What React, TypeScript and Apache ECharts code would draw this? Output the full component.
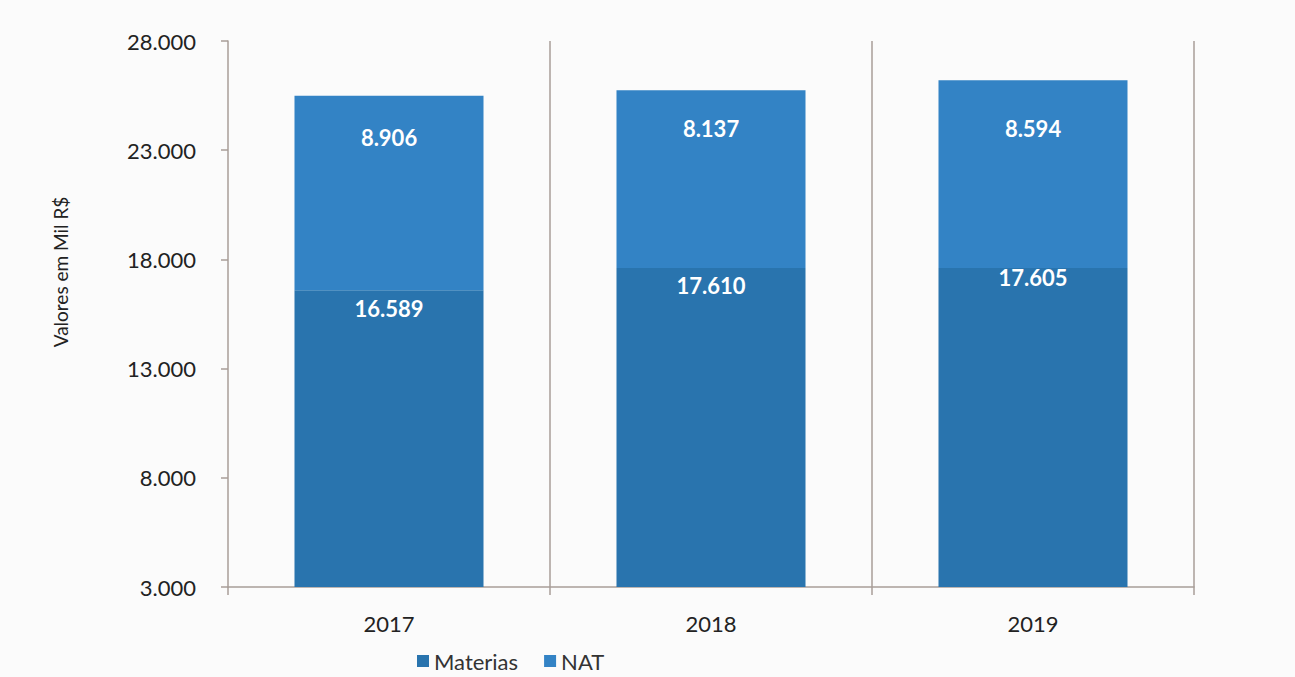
import React, { useEffect, useRef } from "react";
import * as echarts from "echarts";

const categories = ["2017", "2018", "2019"];
const materias = [16589, 17610, 17605];
const nat = [8906, 8137, 8594];
const yMin = 3000;
const yMax = 28000;
const yInterval = 5000;
const yTitle = "Valores em Mil R$";

// label distances from the top of each segment (px), as placed in the original
const materiasLabelGap = [7, 7, -2];
const natLabelGap = [31, 27, 37];

const fmt = (v: number) => {
  const s = Math.round(v).toString();
  return s.replace(/\B(?=(\d{3})+(?!\d))/g, ".");
};

export default function App() {
  const ref = useRef<HTMLDivElement>(null);
  useEffect(() => {
    if (!ref.current) return;
    const chart = echarts.init(ref.current, null, { renderer: "svg" });
    const font = "Lato, 'Open Sans', sans-serif";
    const axisColor = "#a89e99";
    const labelBase = {
      show: true,
      position: "insideTop",
      color: "#fff",
      fontWeight: "bold",
      fontSize: 22,
      fontFamily: font,
      formatter: (p: any) => fmt(p.value),
    };
    chart.setOption({
      animation: false,
      backgroundColor: "#fbfbfb",
      textStyle: { fontFamily: font },
      grid: { left: 228, top: 41, right: 101, bottom: 90 },
      legend: {
        bottom: 2,
        left: 412,
        padding: [2, 5, 2, 5],
        icon: "rect",
        itemWidth: 12,
        itemHeight: 12,
        itemGap: 26,
        textStyle: { fontSize: 22, lineHeight: 24, color: "#333", fontFamily: font },
        data: ["Materias", "NAT"],
      },
      graphic: [
        {
          type: "text",
          x: 60,
          y: 272,
          rotation: Math.PI / 2,
          style: {
            text: yTitle,
            fontSize: 19,
            fontFamily: font,
            fill: "#222",
            align: "center",
            verticalAlign: "middle",
          },
        },
      ],
      xAxis: {
        type: "category",
        data: categories,
        boundaryGap: true,
        axisLine: { show: true, lineStyle: { color: axisColor, width: 1.5 } },
        axisTick: { show: true, length: 8, lineStyle: { color: axisColor, width: 1.5 } },
        splitLine: { show: true, showMinLine: false, showMaxLine: true, lineStyle: { color: axisColor, width: 1.5 } },
        axisLabel: { fontSize: 22, color: "#222", margin: 25, fontFamily: font },
      },
      yAxis: {
        type: "value",
        min: yMin,
        max: yMax,
        interval: yInterval,
        axisLine: { show: true, lineStyle: { color: axisColor, width: 1.5 } },
        axisTick: { show: true, length: 7, lineStyle: { color: axisColor, width: 1.5 } },
        splitLine: { show: false },
        axisLabel: {
          fontSize: 22,
          color: "#222",
          margin: 32,
          fontFamily: font,
          formatter: (v: number) => fmt(v),
        },
      },
      series: [
        {
          name: "Materias",
          type: "bar",
          stack: "total",
          barWidth: "58.7%",
          itemStyle: { color: "#2974ae" },
          label: { ...labelBase, distance: 7 },
          data: materias.map((v, i) => ({ value: v, label: { distance: materiasLabelGap[i] } })),
        },
        {
          name: "NAT",
          type: "bar",
          stack: "total",
          barWidth: "58.7%",
          itemStyle: { color: "#3383c5" },
          label: { ...labelBase, distance: 31 },
          data: nat.map((v, i) => ({ value: v, label: { distance: natLabelGap[i] } })),
        },
      ],
    });
    return () => chart.dispose();
  }, []);
  return (
    <div
      ref={ref}
      style={{ position: "fixed", left: 0, top: 0, width: 1295, height: 677, background: "#fbfbfb" }}
    />
  );
}
